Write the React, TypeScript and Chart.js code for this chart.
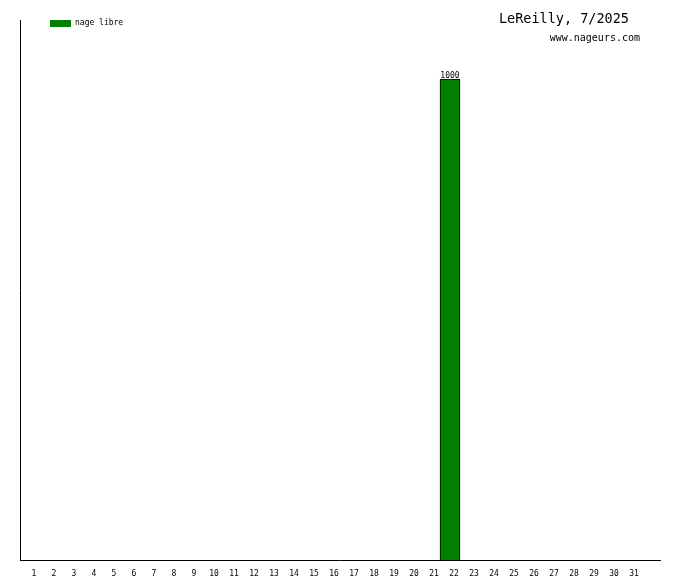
import React, { useEffect, useRef } from "react";
import { Chart, registerables } from "chart.js";

Chart.register(...registerables);

const days: string[] = ["1","2","3","4","5","6","7","8","9","10","11","12","13","14","15","16","17","18","19","20","21","22","23","24","25","26","27","28","29","30","31",""];
const nageLibre: (number | null)[] = [0,0,0,0,0,0,0,0,0,0,0,0,0,0,0,0,0,0,0,0,0,1000,0,0,0,0,0,0,0,0,0,0];
const seriesName = "nage libre";
const titleText = "LeReilly, 7/2025";
const subtitleText = "www.nageurs.com";
const yMax = 1123;

const mono = "'DejaVu Sans Mono', monospace";

const decorPlugin = {
  id: "decor",
  afterDatasetsDraw(chart: any) {
    const ctx = chart.ctx;
    ctx.save();
    const meta = chart.getDatasetMeta(0);
    ctx.font = `8px ${mono}`;
    ctx.fillStyle = "#000";
    ctx.textAlign = "center";
    ctx.textBaseline = "bottom";
    meta.data.forEach((el: any, i: number) => {
      const v = chart.data.datasets[0].data[i];
      if (v && v > 0) ctx.fillText(String(v), el.x, el.y + 1);
    });
    const ds = chart.data.datasets[0];
    ctx.fillStyle = ds.backgroundColor;
    ctx.fillRect(50, 20, 21, 7);
    ctx.fillStyle = "#000";
    ctx.textAlign = "left";
    ctx.textBaseline = "middle";
    ctx.font = `8px ${mono}`;
    ctx.fillText(ds.label, 75, 23);
    ctx.textAlign = "right";
    ctx.font = `13.5px ${mono}`;
    ctx.fillText(titleText, 629, 19);
    ctx.font = `10px ${mono}`;
    ctx.fillText(subtitleText, 640, 38);
    ctx.restore();
  },
};

export default function App() {
  const ref = useRef<HTMLCanvasElement>(null);
  useEffect(() => {
    document.body.style.margin = "0";
    const chart = new Chart(ref.current!, {
      type: "bar",
      data: {
        labels: days,
        datasets: [
          {
            label: seriesName,
            data: nageLibre,
            backgroundColor: "#008000",
            borderColor: "#000",
            borderWidth: 1,
            barPercentage: 1,
            categoryPercentage: 1,
          },
        ],
      },
      options: {
        animation: false,
        responsive: false,
        devicePixelRatio: 1,
        layout: { padding: { left: 20, right: 20, top: 20, bottom: 0 } },
        plugins: { legend: { display: false }, tooltip: { enabled: false } },
        scales: {
          x: {
            offset: true,
            grid: { display: false, drawTicks: false },
            border: { display: true, color: "#000", width: 1 },
            ticks: {
              color: "#000",
              font: { family: mono, size: 8 },
              autoSkip: false,
              maxRotation: 0,
              labelOffset: 4,
              padding: 9,
            },
            afterFit: (s: any) => { s.height = 20; },
          },
          y: {
            min: 0,
            max: yMax,
            grid: { display: false, drawTicks: false },
            border: { display: true, color: "#000", width: 1 },
            ticks: { display: false },
            afterFit: (s: any) => { s.width = 0; },
          },
        },
      },
      plugins: [decorPlugin],
    });
    return () => chart.destroy();
  }, []);
  return (
    <div style={{ position: "absolute", left: 0, top: 0, width: 680, height: 580 }}>
      <canvas ref={ref} width={680} height={580} />
    </div>
  );
}
